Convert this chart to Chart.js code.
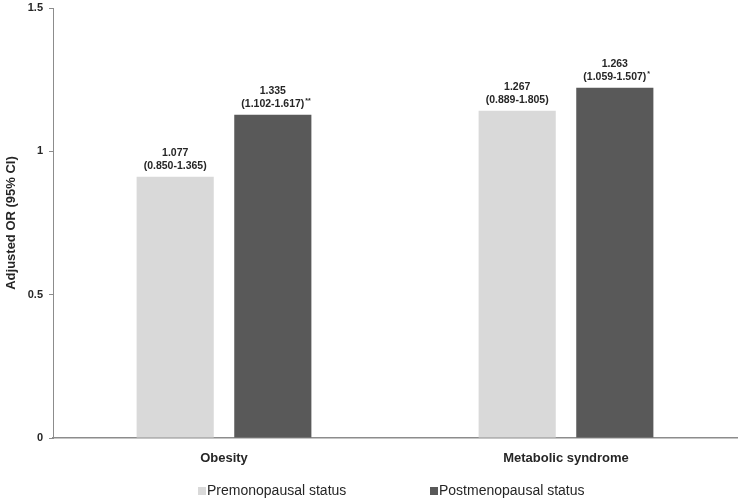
<!DOCTYPE html>
<html>
<head>
<meta charset="utf-8">
<script src="https://cdn.jsdelivr.net/npm/chart.js@4.4.0/dist/chart.umd.min.js"></script>
<style>
  html, body { margin: 0; padding: 0; background: #fff; }
  #wrap { width: 740px; height: 501px; position: relative; }
</style>
</head>
<body>
<div id="wrap"><canvas id="c"></canvas></div>
<script>
// data
const categories = ['Obesity', 'Metabolic syndrome'];
const seriesNames = ['Premonopausal status', 'Postmenopausal status'];
const preValues = [0.911, 1.142];
const postValues = [1.128, 1.222];
const preOR = ['1.077', '1.267'];
const preCI = ['(0.850-1.365)', '(0.889-1.805)'];
const preSig = ['', ''];
const postOR = ['1.335', '1.263'];
const postCI = ['(1.102-1.617)', '(1.059-1.507)'];
const postSig = ['**', '*'];
const yTickLabels = { 0: '0', 0.5: '0.5', 1: '1', 1.5: '1.5' };

const lightGrey = '#d9d9d9';
const darkGrey = '#595959';
const textCol = '#262626';
const FONT = 'Arial, "Liberation Sans", sans-serif';

const labelsByDataset = [
  { or: preOR, ci: preCI, sig: preSig },
  { or: postOR, ci: postCI, sig: postSig }
];

// OR + CI text above each bar
const barLabels = {
  id: 'barLabels',
  afterDatasetsDraw(chart) {
    const ctx = chart.ctx;
    ctx.save();
    ctx.fillStyle = textCol;
    ctx.textAlign = 'center';
    ctx.textBaseline = 'middle';
    chart.data.datasets.forEach((ds, di) => {
      const meta = chart.getDatasetMeta(di);
      const lab = labelsByDataset[di];
      meta.data.forEach((bar, i) => {
        ctx.font = 'bold 10.5px ' + FONT;
        ctx.fillText(lab.or[i], bar.x, bar.y - 24);
        ctx.fillText(lab.ci[i], bar.x, bar.y - 11);
        if (lab.sig[i]) {
          const w = ctx.measureText(lab.ci[i]).width;
          ctx.font = 'bold 7px ' + FONT;
          ctx.textAlign = 'left';
          ctx.fillText(lab.sig[i], bar.x + w / 2 + 1, bar.y - 14);
          ctx.textAlign = 'center';
        }
      });
    });
    ctx.restore();
  }
};

// legend drawn by hand, placed like the original
const bottomLegend = {
  id: 'bottomLegend',
  afterDraw(chart) {
    const ctx = chart.ctx;
    const items = [
      { x: 198, color: lightGrey, text: seriesNames[0] },
      { x: 430, color: darkGrey, text: seriesNames[1] }
    ];
    ctx.save();
    ctx.font = '14px ' + FONT;
    ctx.textBaseline = 'middle';
    ctx.textAlign = 'left';
    items.forEach(it => {
      ctx.fillStyle = it.color;
      ctx.fillRect(it.x, 487, 8, 8);
      ctx.fillStyle = textCol;
      ctx.fillText(it.text, it.x + 9, 491.5);
    });
    ctx.restore();
  }
};

new Chart(document.getElementById('c'), {
  type: 'bar',
  data: {
    labels: categories,
    datasets: [
      {
        label: seriesNames[0],
        data: preValues,
        backgroundColor: lightGrey,
        categoryPercentage: 0.571,
        barPercentage: 0.79
      },
      {
        label: seriesNames[1],
        data: postValues,
        backgroundColor: darkGrey,
        categoryPercentage: 0.571,
        barPercentage: 0.79
      }
    ]
  },
  options: {
    responsive: true,
    maintainAspectRatio: false,
    animation: false,
    layout: { padding: { top: 0, right: 3, left: 0, bottom: 0 } },
    plugins: {
      legend: { display: false },
      tooltip: { enabled: false }
    },
    scales: {
      x: {
        grid: { display: false },
        border: { display: true, color: '#8c8c8c', width: 1.5 },
        ticks: {
          color: textCol,
          font: { family: FONT, size: 13, weight: 'bold' },
          padding: 5
        },
        afterFit(scale) { scale.height = 63; }
      },
      y: {
        min: 0,
        max: 1.5,
        grid: { display: true, drawOnChartArea: false, drawTicks: true, tickLength: 4, color: '#8c8c8c' },
        border: { display: true, color: '#8c8c8c', width: 1 },
        ticks: {
          stepSize: 0.5,
          color: textCol,
          font: { family: FONT, size: 11, weight: 'bold' },
          padding: 6,
          callback: v => yTickLabels[v]
        },
        title: {
          display: true,
          text: 'Adjusted OR (95% CI)',
          color: textCol,
          font: { family: FONT, size: 13, weight: 'bold' },
          padding: { top: 4, bottom: 0 }
        },
        afterFit(scale) {
          scale.width = 53;
          scale.paddingTop = 8;
        }
      }
    }
  },
  plugins: [barLabels, bottomLegend]
});
</script>
</body>
</html>
